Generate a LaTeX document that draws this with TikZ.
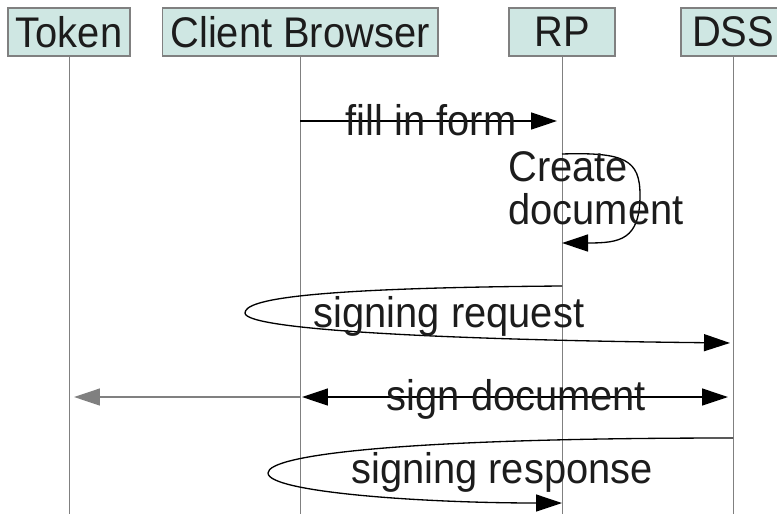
\documentclass[tikz,border=0pt]{standalone}
\usepackage{fontspec}
\setmainfont{Liberation Sans}[FakeStretch=0.93]
\usepackage{xcolor}
\usepackage{tikz}
\definecolor{headfill}{RGB}{207, 231, 227}
\definecolor{lifegray}{RGB}{128, 128, 128}
\definecolor{textdark}{RGB}{28, 28, 28}
\usetikzlibrary{arrows.meta, positioning, calc}

\begin{document}
\begin{tikzpicture}[
    x=0.02cm, y=-0.02cm,
    >={Triangle[length=0.52cm, width=0.34cm]},
    every node/.style={font=\fontsize{24.4}{24.5}\selectfont, text=textdark},
    headbox/.style={rectangle, draw=lifegray, fill=headfill, line width=0.6pt,
                    minimum height=0.96cm, inner sep=0pt},
    lifeline/.style={draw=lifegray, line width=0.55pt},
    msg/.style={draw=black, line width=0.75pt, ->},
    msglabel/.style={anchor=base, inner sep=0pt}
]
    \useasboundingbox (0,0) rectangle (777,514);

    % lanes
    \node[headbox, minimum width=2.44cm] (token) at (69,32) {Token};
    \node[headbox, minimum width=5.52cm] (client) at (300,32) {Client Browser};
    \node[headbox, minimum width=2.12cm] (rp) at (562,32) {RP};
    \node[headbox, minimum width=2.08cm] (dss) at (733,32) {DSS};

    \foreach \lane in {token, client, rp, dss}
        \draw[lifeline] (\lane.south) -- (\lane.south |- 0,514);

    % messages
    \draw[msg, shorten >=0.1cm] (client |- 0,121) --
        node[msglabel, yshift=-0.28cm] (formlabel) {fill in form} (rp |- 0,121);

    \draw[msg] (rp |- 0,154) .. controls (625,152) and (640,160) .. (640,195)
        .. controls (640,240) and (620,243) .. (rp |- 0,243);
    \node[anchor=west, align=left, inner sep=0pt] (createlabel) at (508,188) {Create\\document};

    \draw[msg, shorten >=0.06cm] (rp |- 0,286) .. controls (300,288) and (245,300) .. (245,313)
        .. controls (245,330) and (450,340) .. (dss |- 0,343);
    \node[msglabel] (requestlabel) at (449,327) {signing request};

    \draw[msg, draw=lifegray, shorten >=0.1cm] (client |- 0,397) -- (token |- 0,397);
    \draw[msg, <->, shorten >=0.1cm, shorten <=0.04cm] (client |- 0,397) --
        node[msglabel, yshift=-0.26cm] (signlabel) {sign document} (dss |- 0,397);

    \draw[msg] (dss |- 0,438) .. controls (400,438) and (268,455) .. (268,473)
        .. controls (268,492) and (420,503) .. (rp |- 0,503);
    \node[msglabel] (responselabel) at (502,483) {signing response};
\end{tikzpicture}
\end{document}
